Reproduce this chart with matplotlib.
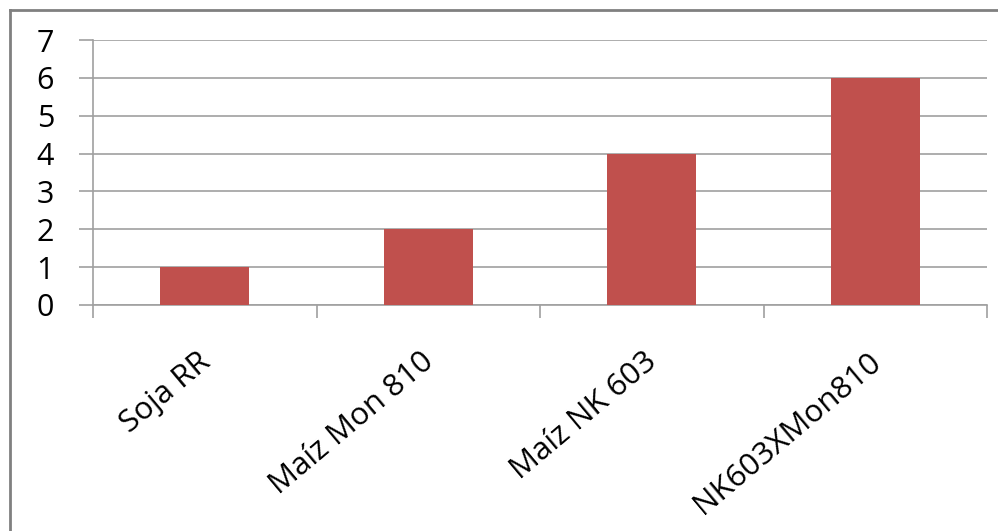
import matplotlib.pyplot as plt
from matplotlib.lines import Line2D
from matplotlib.transforms import ScaledTranslation

# data
categories = ["Soja RR", "Maíz Mon 810", "Maíz NK 603", "NK603XMon810"]
values = [1, 2, 4, 6]
yticks = [0, 1, 2, 3, 4, 5, 6, 7]

bar_color = "#C0504D"
grid_color = "#A0A0A0"

plt.rcParams['font.family'] = ['Open Sans', 'DejaVu Sans']

fig = plt.figure(figsize=(9.98, 5.31), dpi=100)
ax = fig.add_axes([93 / 998, 1 - 305 / 531, (987 - 93) / 998, (305 - 40) / 531])

x = list(range(len(categories)))
ax.bar(x, values, width=0.4, color=bar_color, zorder=3)

ax.set_xlim(-0.5, len(categories) - 0.5)
ax.set_ylim(0, 7)
ax.set_yticks(yticks)
ax.set_yticklabels([str(t) for t in yticks], fontsize=22)
ax.yaxis.grid(True, color=grid_color, linewidth=1.2, zorder=0)
ax.tick_params(axis='y', length=10, width=1.2, color=grid_color, pad=18)

# category labels at centres, tick marks at boundaries
ax.set_xticks(x)
ax.set_xticklabels(categories, fontsize=22.5, rotation=40, ha='right', va='top',
                   rotation_mode='anchor')
ax.set_xticks([i - 0.5 for i in range(len(categories) + 1)], minor=True)
ax.tick_params(axis='x', which='major', length=0, pad=30)
ax.tick_params(axis='x', which='minor', length=9, width=1.2, color=grid_color)
shift = ScaledTranslation(-8 / 100, 0, fig.dpi_scale_trans)
for lbl in ax.get_xticklabels():
    lbl.set_transform(lbl.get_transform() + shift)

for s in ['top', 'right']:
    ax.spines[s].set_visible(False)
for s in ['left', 'bottom']:
    ax.spines[s].set_color(grid_color)
    ax.spines[s].set_linewidth(1.2)

# chart border (top and left edges)
fig.add_artist(Line2D([10 / 998, 1], [1 - 10 / 531, 1 - 10 / 531],
                      transform=fig.transFigure, color="#808080", linewidth=2))
fig.add_artist(Line2D([10 / 998, 10 / 998], [0, 1 - 10 / 531],
                      transform=fig.transFigure, color="#808080", linewidth=2))

fig.savefig("out.png", dpi=100)
